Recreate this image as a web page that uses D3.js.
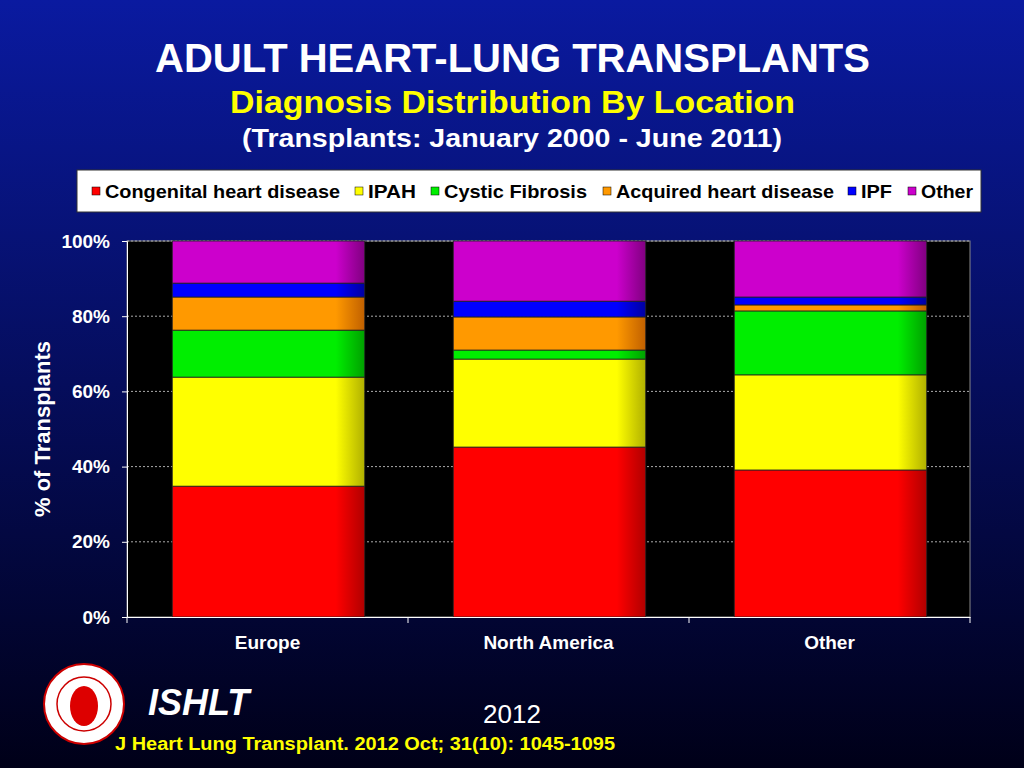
<!DOCTYPE html>
<html><head><meta charset="utf-8">
<script src="https://cdn.jsdelivr.net/npm/d3@7"></script>
<style>body{margin:0;overflow:hidden}</style>
</head><body>
<svg id="c" width="1024" height="768"></svg>
<script>
const categories = ["Europe","North America","Other"];
const seriesNames = ["Congenital heart disease","IPAH","Cystic Fibrosis","Acquired heart disease","IPF","Other"];
const congenital = [34.8, 45.2, 39.1];
const ipah = [29.0, 23.4, 25.3];
const cf = [12.5, 2.4, 17.0];
const acquired = [8.8, 8.8, 1.6];
const ipf = [3.7, 4.2, 2.1];
const other = [11.2, 16.0, 14.9];
const yTicks = [0,20,40,60,80,100];
const colors = ["#ff0000","#ffff00","#00ee00","#ff9900","#0000ff","#cc00cc"];
const darks = ["#b00000","#b0b000","#00a000","#c06000","#0000a0","#800080"];

const svg = d3.select("#c");
const defs = svg.append("defs");
const bg = defs.append("linearGradient").attr("id","bg").attr("x1",0).attr("y1",0).attr("x2",0).attr("y2",1);
bg.append("stop").attr("offset","0%").attr("stop-color","#0a1aa0");
bg.append("stop").attr("offset","100%").attr("stop-color","#000018");
svg.append("rect").attr("width",1024).attr("height",768).attr("fill","url(#bg)");
colors.forEach((c,i)=>{
  const g = defs.append("linearGradient").attr("id","g"+i);
  g.append("stop").attr("offset","0%").attr("stop-color",c);
  g.append("stop").attr("offset","85%").attr("stop-color",c);
  g.append("stop").attr("offset","100%").attr("stop-color",darks[i]);
});

const F = "Liberation Sans, Arial, sans-serif";
function T(x,y,txt,size,fill,len){
  const t = svg.append("text").attr("x",x).attr("y",y).attr("fill",fill).attr("font-family",F).attr("font-weight","bold").attr("font-size",size).text(txt);
  if(len) t.attr("textLength",len).attr("lengthAdjust","spacingAndGlyphs");
  return t;
}
T(155,72,"ADULT HEART-LUNG TRANSPLANTS",40,"white",715);
T(230,113,"Diagnosis Distribution By Location",31,"#ffff00",565);
T(242,147,"(Transplants: January 2000 - June 2011)",25,"white",540);

// legend
svg.append("rect").attr("x",77).attr("y",170).attr("width",904).attr("height",42).attr("fill","white").attr("stroke","#333");
const lx = [92,355,431,603,848,908];
const lw = [235,48,143,218,31,52];
seriesNames.forEach((n,i)=>{
  svg.append("rect").attr("x",lx[i]).attr("y",187).attr("width",8).attr("height",8).attr("fill",colors[i]).attr("stroke","#000").attr("stroke-width",0.5);
  T(lx[i]+13,198,n,19,"black",lw[i]);
});

const m = {l:127,r:970,t:241,b:617};
const x = d3.scaleBand().domain(categories).range([m.l,m.r]).paddingInner(0.315).paddingOuter(0.1575);
const y = d3.scaleLinear().domain([0,100]).range([m.b,m.t]);
svg.append("rect").attr("x",m.l).attr("y",m.t).attr("width",m.r-m.l).attr("height",m.b-m.t).attr("fill","black").attr("stroke","#888");
yTicks.filter(t=>t>0).forEach(t=>{
  svg.append("line").attr("x1",m.l).attr("x2",m.r).attr("y1",y(t)).attr("y2",y(t)).attr("stroke","#aaa").attr("stroke-dasharray","2,2");
});
const data = categories.map((c,i)=>({cat:c,s0:congenital[i],s1:ipah[i],s2:cf[i],s3:acquired[i],s4:ipf[i],s5:other[i]}));
const stack = d3.stack().keys(["s0","s1","s2","s3","s4","s5"])(data);
stack.forEach((layer,i)=>{
  svg.append("g").selectAll("rect").data(layer).join("rect")
    .attr("x",d=>x(d.data.cat)+1).attr("width",x.bandwidth())
    .attr("y",d=>y(d[1])).attr("height",d=>y(d[0])-y(d[1]))
    .attr("fill","url(#g"+i+")").attr("stroke","#222").attr("stroke-width",0.8);
});
const ya = svg.append("g").attr("transform",`translate(${m.l},0)`).call(d3.axisLeft(y).tickValues(yTicks).tickFormat(d=>d+"%").tickSize(5));
ya.select(".domain").attr("stroke","white");
ya.selectAll("line").attr("stroke","white");
ya.selectAll("text").attr("fill","white").attr("font-family",F).attr("font-weight","bold").attr("font-size",19).attr("x",-17);
const xa = svg.append("g").attr("transform",`translate(0,${m.b})`).call(d3.axisBottom(x).tickSize(0));
xa.select(".domain").attr("stroke","white");
xa.selectAll("text").attr("fill","white").attr("font-family",F).attr("font-weight","bold").attr("font-size",19).attr("dy",29);
[m.l, (x("Europe")+x.bandwidth()+x("North America"))/2, (x("North America")+x.bandwidth()+x("Other"))/2, m.r].forEach(v=>{
  svg.append("line").attr("x1",v).attr("x2",v).attr("y1",m.b).attr("y2",m.b+6).attr("stroke","white");
});
svg.append("text").attr("transform","translate(50,429) rotate(-90)").attr("text-anchor","middle").attr("fill","white").attr("font-family",F).attr("font-weight","bold").attr("font-size",22).text("% of Transplants");

// footer
svg.append("circle").attr("cx",84).attr("cy",704).attr("r",40).attr("fill","white").attr("stroke","#c00").attr("stroke-width",2);
svg.append("circle").attr("cx",84).attr("cy",704).attr("r",27).attr("fill","white").attr("stroke","#c00").attr("stroke-width",1.5);
svg.append("ellipse").attr("cx",84).attr("cy",706).attr("rx",14).attr("ry",20).attr("fill","#d00");
svg.append("text").attr("x",148).attr("y",715).attr("fill","white").attr("font-family",F).attr("font-weight","bold").attr("font-style","italic").attr("font-size",36).text("ISHLT");
svg.append("text").attr("x",512).attr("y",723).attr("text-anchor","middle").attr("fill","white").attr("font-family",F).attr("font-size",26).text("2012");
T(115,750,"J Heart Lung Transplant.  2012 Oct; 31(10): 1045-1095",18,"#ffff00",500);
</script>
</body></html>
